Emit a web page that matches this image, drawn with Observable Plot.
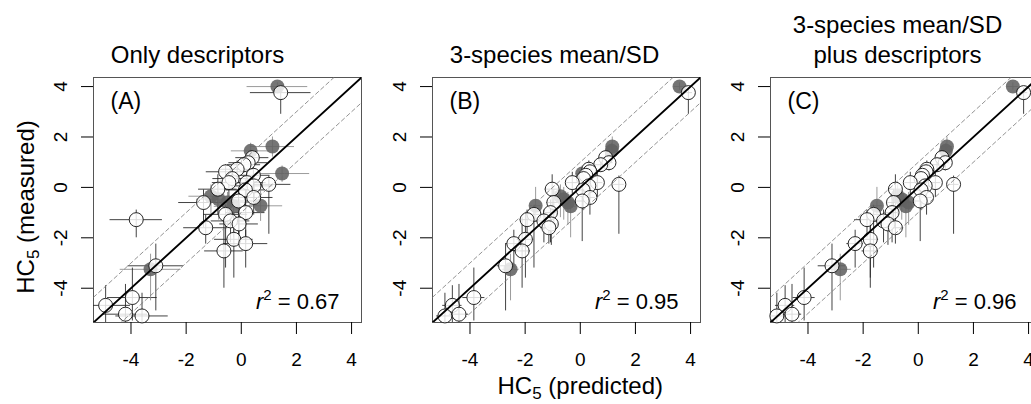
<!DOCTYPE html>
<html><head><meta charset="utf-8">
<script src="https://cdn.jsdelivr.net/npm/d3@7"></script>
<script src="https://cdn.jsdelivr.net/npm/@observablehq/plot@0.6"></script>
<style>
html,body{margin:0;padding:0;background:#fff;overflow:hidden;}
#wrap{position:relative;width:1031px;height:404px;overflow:hidden;background:#fff;}
#wrap svg{position:absolute;top:0;}
</style></head><body><div id="wrap"></div>
<script>
// ---- data ----
const axisLimits = [-5.36, 4.36];
const axisTicks = [-4, -2, 0, 2, 4];
const panelTitles = ["Only descriptors", "3-species mean/SD", "3-species mean/SD\nplus descriptors"];
const panelLabels = ["(A)", "(B)", "(C)"];
const r2Values = ["0.67", "0.95", "0.96"];
const xAxisLabel = "HC5 (predicted)";
const yAxisLabel = "HC5 (measured)";

// measured HC5 (shared by all panels) and its interval
const measured     = [4.00, 3.76, 1.62, 1.45, 1.18, 0.98, 0.90, 0.72, 0.62, 0.55, 0.48, 0.35, 0.19, 0.19, 0.12, 0.06, -0.07, -0.10, -0.35, -0.40, -0.47, -0.54, -0.60, -0.60, -0.73, -0.75, -1.00, -1.07, -1.28, -1.33, -1.45, -1.60, -2.06, -2.23, -2.52, -3.11, -3.25, -4.37, -4.68, -5.03, -5.10];
const measuredLow  = [3.85, 2.90, 1.20, 1.20, 0.85, 0.65, 0.60, 0.30, 0.20, 0.20, 0.00, -0.10, -0.30, -0.40, -1.86, -0.50, -1.10, -0.90, -1.20, -1.10, -1.30, -2.15, -1.50, -1.60, -1.35, -2.00, -2.20, -3.20, -2.00, -2.20, -2.30, -2.25, -3.60, -3.20, -4.00, -4.90, -4.50, -5.30, -5.40, -5.40, -5.40];
const measuredHigh = [4.15, 3.95, 2.00, 1.75, 1.45, 1.25, 1.20, 1.05, 0.90, 0.85, 0.80, 0.70, 0.60, 0.55, 0.45, 0.40, 0.50, 0.30, 0.10, 0.00, 0.00, -0.10, -0.20, -0.10, 0.00, -0.30, -0.50, -0.70, -0.90, -0.90, -1.00, -1.10, -1.00, -1.70, -1.20, -2.25, -2.65, -3.20, -3.90, -3.85, -4.20];
const isFilled     = [1, 0, 1, 1, 0, 0, 0, 0, 0, 1, 0, 0, 0, 0, 0, 0, 0, 0, 1, 0, 1, 0, 1, 0, 1, 1, 0, 0, 0, 0, 0, 0, 0, 0, 0, 0, 1, 0, 0, 0, 0];

// predicted HC5 and SD, panel A (only descriptors)
const predA   = [1.31, 1.43, 1.13, 0.34, 0.40, 0.25, 0.10, -0.15, -0.57, 1.48, 0.44, -0.33, 0.20, -0.45, 1.00, 0.46, -0.85, 0.15, -1.10, 0.45, -0.82, -0.10, -0.50, -1.37, 0.70, -0.28, 0.16, -0.57, -3.81, -0.39, -0.08, -1.29, -0.27, 0.16, -0.63, -3.10, -3.29, -3.95, -4.92, -4.20, -3.60];
const predASD = [1.10, 1.10, 0.80, 0.70, 0.60, 0.70, 0.60, 0.60, 0.70, 1.00, 0.60, 0.70, 0.70, 0.60, 0.80, 0.70, 0.70, 0.70, 0.80, 0.70, 0.80, 0.70, 0.80, 0.90, 0.80, 0.70, 0.70, 0.80, 0.95, 0.70, 0.70, 0.80, 0.70, 0.80, 0.70, 1.00, 1.10, 0.90, 0.90, 0.80, 0.95];
// panel B (3-species mean/SD)
const predB   = [3.60, 3.92, 1.16, 1.14, 0.92, 1.04, 0.74, 0.31, 0.35, 0.07, 0.20, 0.12, -0.29, 0.62, 1.40, 0.31, -1.02, 0.10, -0.72, 0.35, -0.60, 0.07, -0.45, -0.96, -1.62, -0.35, -1.08, -1.68, -1.93, -1.32, -1.05, -1.14, -1.99, -2.41, -2.11, -2.71, -2.53, -3.86, -4.64, -4.40, -4.91];
const predBSD = [0.20, 0.15, 0.20, 0.20, 0.15, 0.15, 0.20, 0.20, 0.15, 0.20, 0.15, 0.20, 0.20, 0.20, 0.20, 0.20, 0.25, 0.20, 0.25, 0.20, 0.20, 0.20, 0.20, 0.25, 0.20, 0.20, 0.25, 0.25, 0.25, 0.30, 0.25, 0.30, 0.30, 0.30, 0.30, 0.30, 0.30, 0.40, 0.35, 0.35, 0.30];
// panel C (3-species mean/SD plus descriptors)
const predC   = [3.43, 3.82, 1.04, 1.00, 0.86, 0.98, 0.68, 0.31, 0.28, 0.20, 0.15, 0.10, -0.29, 0.62, 1.28, 0.25, -0.83, 0.10, -0.75, 0.30, -0.60, 0.07, -0.35, -0.90, -1.50, -0.45, -0.95, -1.62, -1.86, -1.26, -1.10, -0.83, -1.74, -2.29, -1.74, -3.13, -2.83, -4.14, -4.83, -4.58, -5.13];
const predCSD = [0.20, 0.15, 0.20, 0.20, 0.15, 0.15, 0.20, 0.20, 0.15, 0.20, 0.15, 0.20, 0.20, 0.20, 0.20, 0.20, 0.25, 0.20, 0.25, 0.20, 0.20, 0.20, 0.20, 0.25, 0.20, 0.20, 0.25, 0.25, 0.45, 0.30, 0.25, 0.30, 0.30, 0.30, 0.30, 0.50, 0.40, 0.40, 0.35, 0.35, 0.30];

// ---- layout ----
const W = 370, H = 404, ML = 93, MR = 9, MT = 77, MB = 82;
const panels = [
  {pred: predA, sd: predASD, left: 0,   titleDx: 104},
  {pred: predB, sd: predBSD, left: 339, titleDx: 122},
  {pred: predC, sd: predCSD, left: 677, titleDx: 127}
];
const font = "'Liberation Sans', Arial, Helvetica, sans-serif";

function richify(svg) {
  d3.select(svg).selectAll("text").each(function () {
    const t = this.textContent;
    const el = d3.select(this);
    let m;
    if ((m = t.match(/^HC5 (.*)$/))) {
      this.textContent = "";
      el.append("tspan").text("HC");
      el.append("tspan").attr("font-size", 17).attr("dy", 5).text("5");
      el.append("tspan").attr("dy", -5).text(" " + m[1]);
    } else if ((m = t.match(/^r2 (.*)$/))) {
      this.textContent = "";
      el.append("tspan").attr("font-style", "italic").text("r");
      el.append("tspan").attr("font-size", 15).attr("dy", -9).text("2");
      el.append("tspan").attr("dy", 9).text(" " + m[1]);
    }
  });
}

const wrap = document.getElementById("wrap");
panels.forEach((p, k) => {
  const rows = measured.map((y, i) => ({
    y, ylo: measuredLow[i], yhi: measuredHigh[i], filled: isFilled[i] === 1,
    x: p.pred[i], xlo: p.pred[i] - p.sd[i], xhi: p.pred[i] + p.sd[i]
  }));
  const marks = [
    Plot.frame({stroke: "#555", strokeWidth: 1}),
    Plot.ruleY(rows, {y: "y", x1: "xlo", x2: "xhi", stroke: d => d.filled ? "#8a8a8a" : "#222", strokeOpacity: 0.85, strokeWidth: 1, clip: true}),
    Plot.ruleX(rows, {x: "x", y1: "ylo", y2: "yhi", stroke: d => d.filled ? "#8a8a8a" : "#222", strokeOpacity: 0.85, strokeWidth: 1, clip: true}),
    Plot.dot(rows.filter(d => d.filled), {x: "x", y: "y", r: 7, fill: "#626262", fillOpacity: 0.88, stroke: "none"}),
    Plot.dot(rows.filter(d => !d.filled), {x: "x", y: "y", r: 7, fill: "white", fillOpacity: 0.82, stroke: "#111", strokeWidth: 0.9}),
    Plot.line(axisLimits, {x: d => d, y: d => d + 1, stroke: "#777", strokeWidth: 0.8, strokeDasharray: "4,3", clip: true}),
    Plot.line(axisLimits, {x: d => d, y: d => d - 1, stroke: "#777", strokeWidth: 0.8, strokeDasharray: "4,3", clip: true}),
    Plot.line(axisLimits, {x: d => d, y: d => d, stroke: "black", strokeWidth: 1.9, clip: true}),
    Plot.axisX({ticks: axisTicks, tickSize: 12, tickPadding: 17.5, fontSize: 19, tickFormat: d => String(d), label: null}),
    Plot.axisY({ticks: axisTicks, tickSize: 12, tickPadding: 15, tickRotate: -90, fontSize: 19, tickFormat: d => String(d), label: null}),
    Plot.text([panelTitles[k]], {frameAnchor: "top-left", dx: p.titleDx, dy: -15, textAnchor: "middle", lineAnchor: "bottom", fontSize: 24, lineHeight: 1.25}),
    Plot.text([panelLabels[k]], {frameAnchor: "top-left", dx: 17, dy: 31, textAnchor: "start", lineAnchor: "bottom", fontSize: 23}),
    Plot.text(["r2 = " + r2Values[k]], {frameAnchor: "bottom-right", dx: -22, dy: -14, textAnchor: "end", lineAnchor: "bottom", fontSize: 22})
  ];
  if (k === 0) marks.push(Plot.text([yAxisLabel], {frameAnchor: "left", dx: 33 - ML, dy: 7, rotate: -90, textAnchor: "middle", lineAnchor: "bottom", fontSize: 24}));
  if (k === 1) marks.push(Plot.text([xAxisLabel], {frameAnchor: "bottom-left", dx: 65, dy: 71, textAnchor: "start", lineAnchor: "bottom", fontSize: 24}));
  const svg = Plot.plot({
    width: W, height: H, marginLeft: ML, marginRight: MR, marginTop: MT, marginBottom: MB,
    x: {domain: axisLimits}, y: {domain: axisLimits},
    style: {fontFamily: font, background: "none", overflow: "visible", maxWidth: "none", color: "black"},
    marks
  });
  richify(svg);
  svg.style.left = p.left + "px";
  wrap.appendChild(svg);
});
</script></body></html>
